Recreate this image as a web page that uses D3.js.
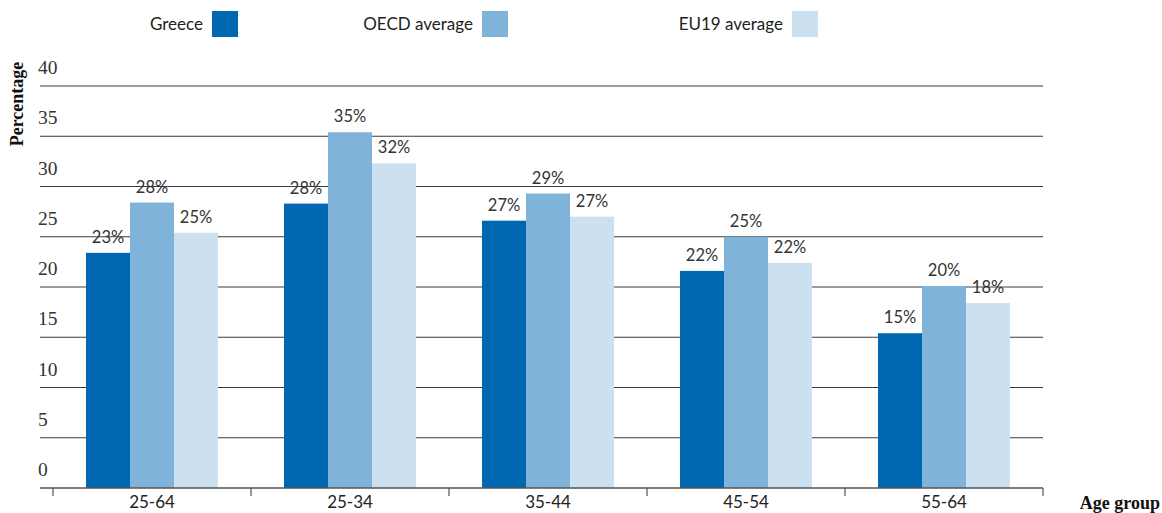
<html>
<head>
<meta charset="UTF-8">
<title>Age group</title>
<script src="https://d3js.org/d3.v7.min.js"></script>
<style>
  body{ margin:0; background:#fff; }
  svg{ display:block; }
</style>
</head>
<body>
<svg width="1162" height="513"></svg>
<script type="text/javascript">
  var categories = ["25-64", "25-34", "35-44", "45-54", "55-64"];
  var seriesNames = ["Greece", "OECD average", "EU19 average"];
  var greece = [23.4, 28.3, 26.6, 21.6, 15.4];
  var oecd = [28.4, 35.4, 29.3, 25.0, 20.1];
  var eu19 = [25.4, 32.3, 27.0, 22.4, 18.4];
  var yTicks = [0, 5, 10, 15, 20, 25, 30, 35, 40];
  var colors = ["#0067b1", "#80b3d9", "#cce1f0"];

  var series = [greece, oecd, eu19];
  var rows = categories.map(function(c, i){
    return {cat: c, vals: series.map(function(s, j){ return {name: seriesNames[j], v: s[i]}; })};
  });

  var svg = d3.select("svg");
  var gridLeft = 40, gridRight = 1043;

  var x = d3.scaleBand()
      .domain(categories)
      .range([53, 1043])
      .paddingInner(0)
      .paddingOuter(0);
  var x1 = d3.scaleBand()
      .domain(seriesNames)
      .range([33, 165]);
  var y = d3.scaleLinear()
      .domain([0, 40])
      .range([488, 86]);
  var color = d3.scaleOrdinal().domain(seriesNames).range(colors);

  // gridlines
  svg.append("g").selectAll("line")
    .data(yTicks.filter(function(t){ return t > 0; }))
    .enter().append("line")
    .attr("x1", gridLeft).attr("x2", gridRight)
    .attr("y1", function(d){ return y(d); })
    .attr("y2", function(d){ return y(d); })
    .attr("stroke", "#3a3a3a")
    .attr("stroke-width", 1.2);

  // y tick labels sit above their gridline
  svg.append("g").selectAll("text")
    .data(yTicks)
    .enter().append("text")
    .attr("x", 38)
    .attr("y", function(d){ return y(d) - 12; })
    .attr("font-family", "Liberation Serif, serif")
    .attr("font-size", 19.5)
    .attr("fill", "#333")
    .text(function(d){ return d; });

  // bars
  var groups = svg.append("g").selectAll("g")
    .data(rows)
    .enter().append("g")
    .attr("transform", function(d){ return "translate(" + x(d.cat) + ",0)"; });

  groups.selectAll("rect")
    .data(function(d){ return d.vals; })
    .enter().append("rect")
    .attr("x", function(d){ return x1(d.name); })
    .attr("y", function(d){ return y(d.v); })
    .attr("width", x1.bandwidth())
    .attr("height", function(d){ return y(0) - y(d.v); })
    .attr("fill", function(d){ return color(d.name); });

  groups.selectAll("text")
    .data(function(d){ return d.vals; })
    .enter().append("text")
    .attr("x", function(d){ return x1(d.name) + x1.bandwidth() / 2; })
    .attr("y", function(d){ return y(d.v) - 10; })
    .attr("text-anchor", "middle")
    .attr("font-family", "Lato, sans-serif")
    .attr("font-size", 16.5)
    .attr("fill", "#333")
    .text(function(d){ return Math.round(d.v) + "%"; });

  // bottom axis
  var xAxis = d3.axisBottom(x).tickSize(0).tickPadding(8);
  var ax = svg.append("g")
    .attr("transform", "translate(0,488)")
    .call(xAxis);
  ax.select(".domain").remove();
  ax.selectAll("text")
    .attr("font-family", "Lato, sans-serif")
    .attr("font-size", 17)
    .attr("fill", "#222");
  ax.append("line")
    .attr("x1", gridLeft).attr("x2", gridRight)
    .attr("y1", 0).attr("y2", 0)
    .attr("stroke", "#555").attr("stroke-width", 1.5);
  var edges = categories.map(function(c){ return x(c); }).concat([x.range()[1]]);
  ax.selectAll(".edge")
    .data(edges)
    .enter().append("line")
    .attr("class", "edge")
    .attr("x1", function(d){ return d; }).attr("x2", function(d){ return d; })
    .attr("y1", 0).attr("y2", 8)
    .attr("stroke", "#555").attr("stroke-width", 1.2);

  // axis titles
  svg.append("text")
    .attr("transform", "translate(23,104) rotate(-90)")
    .attr("text-anchor", "middle")
    .attr("font-family", "Liberation Serif, serif")
    .attr("font-weight", "bold")
    .attr("font-size", 18)
    .attr("fill", "#111")
    .text("Percentage");
  svg.append("text")
    .attr("x", 1160).attr("y", 509)
    .attr("text-anchor", "end")
    .attr("font-family", "Liberation Serif, serif")
    .attr("font-weight", "bold")
    .attr("font-size", 18)
    .attr("fill", "#111")
    .text("Age group");

  // legend
  var legendRight = [212, 482, 792];
  var legend = svg.append("g").selectAll("g")
    .data(seriesNames)
    .enter().append("g")
    .attr("transform", function(d, i){ return "translate(" + legendRight[i] + ",11)"; });
  legend.append("rect")
    .attr("width", 26).attr("height", 26)
    .attr("fill", function(d){ return color(d); });
  legend.append("text")
    .attr("x", -9).attr("y", 19)
    .attr("text-anchor", "end")
    .attr("font-family", "Lato, sans-serif")
    .attr("font-size", 17)
    .attr("fill", "#222")
    .text(function(d){ return d; });
</script>
</body>
</html>
